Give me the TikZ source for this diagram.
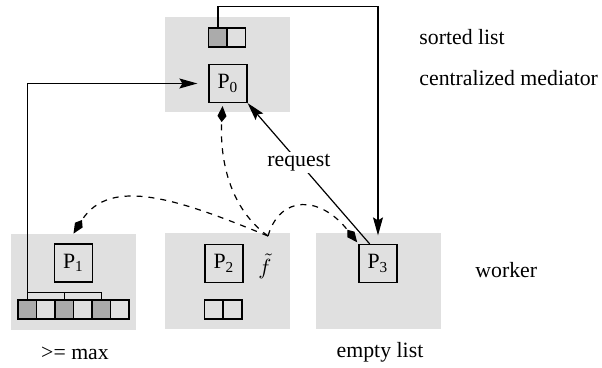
\documentclass[tikz,border=0pt]{standalone}
\usepackage{fontspec}
\setmainfont{Liberation Serif}
\newfontfamily\timesfont{Liberation Serif}
\usetikzlibrary{arrows.meta}

\begin{document}
\begin{tikzpicture}[x=0.5pt,y=-0.5pt,
    font=\timesfont\fontsize{10.9}{13}\selectfont,
    area/.style={fill=black!12, minimum width=62.5pt, minimum height=48pt, inner sep=0pt},
    proc/.style={draw, line width=0.6pt, minimum size=19pt, inner sep=0pt},
    cell/.style={draw, line width=0.75pt, minimum width=9.25pt, minimum height=9.5pt, inner sep=0pt},
    full/.style={cell, fill=black!33},
    label/.style={inner sep=0pt},
    solid arrow/.style={line width=0.6pt, -{Stealth[length=9pt,width=5pt,inset=1.5pt]}},
    dashed arrow/.style={line width=0.6pt, dashed, -{Kite[length=8pt,width=4.5pt,inset=3pt]}}]
  \useasboundingbox (0,0) rectangle (602,368);

  % shaded regions
  \node[area, minimum height=47.5pt] (med) at (227.5,64.5) {};
  \node[area] (wk1) at (73.5,282) {};
  \node[area] (wk2) at (227.5,281.5) {};
  \node[area] (wk3) at (378.5,281.5) {};

  % processes
  \node[proc] (p0) at (228,83.5) {P\textsubscript{0}};
  \node[proc] (p1) at (73.5,263) {P\textsubscript{1}};
  \node[proc] (p2) at (224,263.5) {P\textsubscript{2}};
  \node[proc] (p3) at (378,263.5) {P\textsubscript{3}};

  % lists
  \foreach \i/\s in {1/full,2/cell}
    \node[\s] (s\i) at ({199.5+18.5*\i},37.5) {};
  \foreach \i/\s in {1/full,2/cell,3/full,4/cell,5/full,6/cell}
    \node[\s] (a\i) at ({8.75+18.5*\i},309.5) {};
  \foreach \i in {1,2}
    \node[cell] (b\i) at ({195+19*\i},309.5) {};

  \node[inner sep=0pt] (ft) at (265,266) {$\tilde{f}$};
  \coordinate (fsrc) at (268,236);

  % labels
  \node[label, anchor=west] (lsort) at (419,37) {sorted list};
  \node[label, anchor=west] (lmed) at (419,78) {centralized mediator};
  \node[label, anchor=west] (lwork) at (475,270) {worker};
  \node[label] (lmax) at (75,353) {>= max};
  \node[label] (lempty) at (380,352) {empty list};

  % connections
  \draw[line width=0.6pt] (a1.north) -- ++(0,-7) -| (a5.north);
  \draw[line width=0.6pt] (a3.north) -- ++(0,-7);
  \draw[solid arrow, shorten >=5.5pt] (a1.north) |- (p0.west);
  \draw[solid arrow, shorten >=4.25pt] (s1.north) -- ++(0,-21) -| (p3.north);
  \draw[solid arrow] (p3.113) -- node[pos=0.58, fill=white, inner sep=1pt] (req) {request} (p0.south east);

  \draw[dashed arrow, shorten >=1.5pt] (fsrc) .. controls (225,205) and (220,150) .. (p0.-105);
  \draw[dashed arrow] (fsrc) .. controls (180,200) and (110,175) .. (wk1.north);
  \draw[dashed arrow, shorten >=1pt] (fsrc) .. controls (280,195) and (320,195) .. (p3.north west);
\end{tikzpicture}
\end{document}
